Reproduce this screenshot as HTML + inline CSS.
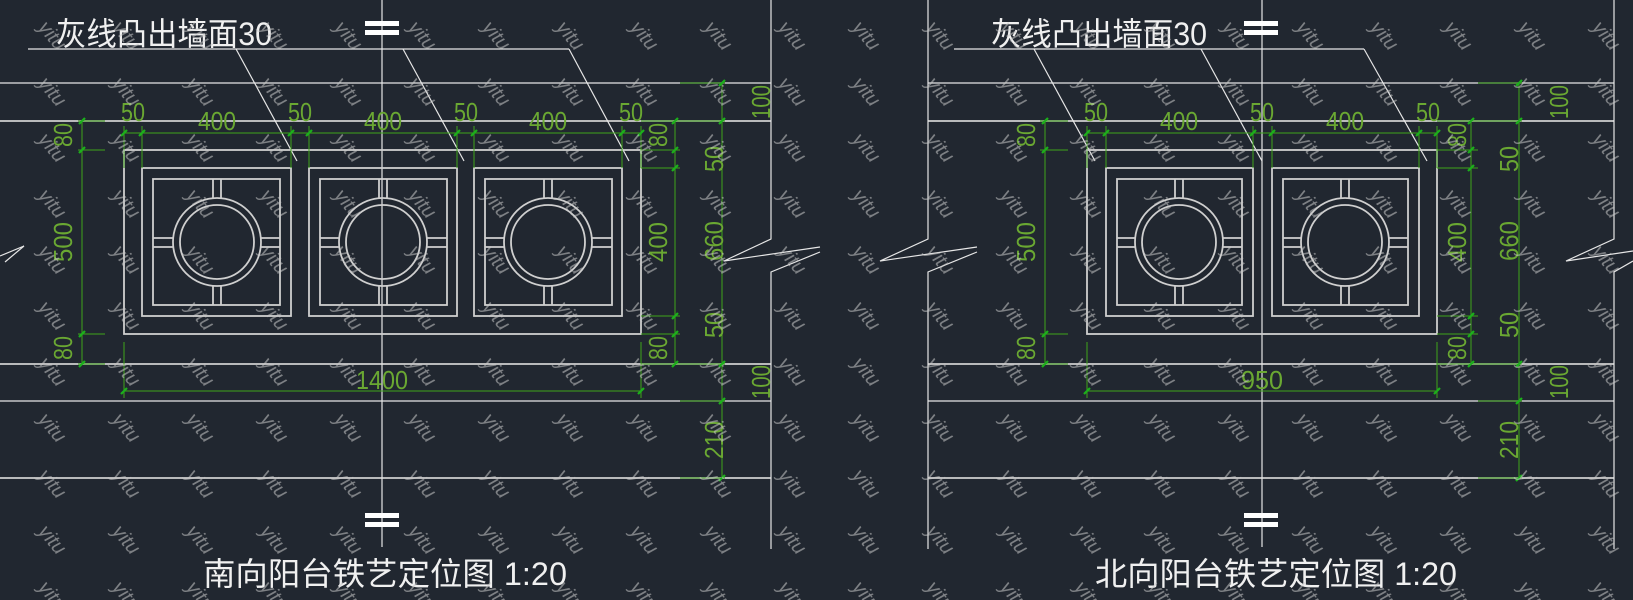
<!DOCTYPE html>
<html><head><meta charset="utf-8"><style>
html,body{margin:0;padding:0;background:#212730;}
svg{display:block}
.w{stroke:#e6e6e6;stroke-width:1.2;fill:none}
.g{stroke:#cfcfcf;stroke-width:1.8;fill:none}
.d{stroke:#3fa51a;stroke-width:1;fill:none}
.t{stroke:#1bb01b;stroke-width:2.2}
.dt{fill:#6aa832;font-family:"Liberation Sans",sans-serif;font-size:26px}
.cn{fill:#f0f0f0;font-family:"Liberation Sans","Noto Sans CJK SC",sans-serif;font-size:32px}
.wm{fill:rgba(200,200,200,0.55);font-family:"Liberation Sans",sans-serif;font-style:italic;font-size:20px}
</style></head><body>
<svg width="1633" height="600" viewBox="0 0 1633 600" xmlns="http://www.w3.org/2000/svg">
<defs>
<pattern id="wmp" x="15" y="8" width="74" height="56" patternUnits="userSpaceOnUse">
<text class="wm" x="37" y="34" text-anchor="middle" transform="rotate(50 37 28)">yitu</text>
</pattern>
</defs>
<rect width="1633" height="600" fill="#212730"/>

<!-- ===== LEFT ===== -->
<g>
<line class="w" x1="0" y1="83" x2="771" y2="83"/>
<line class="g" x1="0" y1="121" x2="771" y2="121"/>
<line class="g" x1="0" y1="364" x2="771" y2="364"/>
<line class="w" x1="0" y1="401" x2="771" y2="401"/>
<line class="g" x1="0" y1="478" x2="771" y2="478"/>
<polyline class="w" points="771,0 771,239 724,261 820,247"/>
<polyline class="w" points="820,252 771,272 771,549"/>
<polyline class="w" points="0,256 24,246 5,262"/>
<line class="w" x1="382" y1="0" x2="382" y2="547"/>
<rect x="365" y="21" width="34" height="5" fill="#fff"/><rect x="365" y="30" width="34" height="5" fill="#fff"/>
<rect x="365" y="513" width="34" height="5" fill="#fff"/><rect x="365" y="522" width="34" height="5" fill="#fff"/>
<text class="cn" x="56" y="45" textLength="216" lengthAdjust="spacingAndGlyphs">灰线凸出墙面30</text>
<polyline class="w" points="28,49 569,49"/>
<line class="w" x1="236" y1="49" x2="297" y2="161"/>
<line class="w" x1="403" y1="49" x2="464" y2="161"/>
<line class="w" x1="569" y1="49" x2="629" y2="161"/>
<rect class="g" x="124" y="150" width="517" height="184"/>
<g class="g">
<rect x="142" y="168" width="149" height="148"/><rect x="153" y="179" width="127" height="126"/>
<rect x="309" y="168" width="148" height="148"/><rect x="320" y="179" width="127" height="126"/>
<rect x="474" y="168" width="148" height="148"/><rect x="485" y="179" width="127" height="126"/>
<circle cx="217" cy="242" r="44"/><circle cx="217" cy="242" r="37"/>
<circle cx="383" cy="242" r="44"/><circle cx="383" cy="242" r="37"/>
<circle cx="548" cy="242" r="44"/><circle cx="548" cy="242" r="37"/>
<path d="M213,179V198M221,179V198M213,286V305M221,286V305M153,238H173M153,247H173M261,238H280M261,247H280"/>
<path d="M379,179V198M387,179V198M379,286V305M387,286V305M320,238H339M320,247H339M427,238H447M427,247H447"/>
<path d="M544,179V198M552,179V198M544,286V305M552,286V305M485,238H504M485,247H504M592,238H612M592,247H612"/>
</g>
<g class="d">
<line x1="124" y1="133" x2="641" y2="133"/>
<path d="M124,126V168M142,126V168M291,126V168M309,126V168M457,126V168M474,126V168M622,126V168M641,126V168"/>
<line x1="82" y1="121" x2="82" y2="364"/>
<path d="M78,150H105M78,334H105M78,121H105M78,364H105"/>
<line x1="675" y1="121" x2="675" y2="364"/>
<path d="M641,121H680M641,150H680M641,168H680M641,316H680M641,334H680M641,364H680"/>
<line x1="722" y1="83" x2="722" y2="478"/>
<path d="M680,83H725M680,121H725M680,364H725M680,401H725M680,478H725"/>
<line x1="124" y1="391" x2="641" y2="391"/>
<path d="M124,342V398M641,342V398"/>
</g>
<g class="t">
<path d="M121,136l6,-6M139,136l6,-6M288,136l6,-6M306,136l6,-6M454,136l6,-6M471,136l6,-6M619,136l6,-6M638,136l6,-6"/>
<path d="M79,124l6,-6M79,153l6,-6M79,337l6,-6M79,367l6,-6"/>
<path d="M672,124l6,-6M672,153l6,-6M672,171l6,-6M672,319l6,-6M672,337l6,-6M672,367l6,-6"/>
<path d="M719,86l6,-6M719,124l6,-6M719,367l6,-6M719,404l6,-6M719,481l6,-6"/>
<path d="M121,394l6,-6M638,394l6,-6"/>
</g>
<g class="dt" text-anchor="middle">
<text x="133" y="121" textLength="24" lengthAdjust="spacingAndGlyphs">50</text>
<text x="217" y="130" textLength="38" lengthAdjust="spacingAndGlyphs">400</text>
<text x="300" y="121" textLength="24" lengthAdjust="spacingAndGlyphs">50</text>
<text x="383" y="130" textLength="38" lengthAdjust="spacingAndGlyphs">400</text>
<text x="466" y="121" textLength="24" lengthAdjust="spacingAndGlyphs">50</text>
<text x="548" y="130" textLength="38" lengthAdjust="spacingAndGlyphs">400</text>
<text x="631" y="121" textLength="24" lengthAdjust="spacingAndGlyphs">50</text>
<text x="382" y="389" textLength="52" lengthAdjust="spacingAndGlyphs">1400</text>
<text transform="translate(72,135) rotate(-90)" textLength="24" lengthAdjust="spacingAndGlyphs">80</text>
<text transform="translate(72,242) rotate(-90)" textLength="40" lengthAdjust="spacingAndGlyphs">500</text>
<text transform="translate(72,348) rotate(-90)" textLength="24" lengthAdjust="spacingAndGlyphs">80</text>
<text transform="translate(667,135) rotate(-90)" textLength="24" lengthAdjust="spacingAndGlyphs">80</text>
<text transform="translate(667,242) rotate(-90)" textLength="40" lengthAdjust="spacingAndGlyphs">400</text>
<text transform="translate(667,348) rotate(-90)" textLength="24" lengthAdjust="spacingAndGlyphs">80</text>
<text transform="translate(770,102) rotate(-90)" textLength="34" lengthAdjust="spacingAndGlyphs">100</text>
<text transform="translate(723,159) rotate(-90)" textLength="26" lengthAdjust="spacingAndGlyphs">50</text>
<text transform="translate(723,241) rotate(-90)" textLength="40" lengthAdjust="spacingAndGlyphs">660</text>
<text transform="translate(723,325) rotate(-90)" textLength="26" lengthAdjust="spacingAndGlyphs">50</text>
<text transform="translate(770,382) rotate(-90)" textLength="34" lengthAdjust="spacingAndGlyphs">100</text>
<text transform="translate(723,440) rotate(-90)" textLength="38" lengthAdjust="spacingAndGlyphs">210</text>
</g>
<text class="cn" x="203" y="585" textLength="364" lengthAdjust="spacingAndGlyphs">南向阳台铁艺定位图 1:20</text>
</g>

<!-- ===== RIGHT ===== -->
<g>
<line class="w" x1="928" y1="83" x2="1614" y2="83"/>
<line class="g" x1="928" y1="121" x2="1614" y2="121"/>
<line class="g" x1="928" y1="364" x2="1614" y2="364"/>
<line class="w" x1="928" y1="401" x2="1614" y2="401"/>
<line class="g" x1="928" y1="478" x2="1614" y2="478"/>
<polyline class="w" points="928,0 928,239 880,261 977,247"/>
<polyline class="w" points="977,252 928,272 928,549"/>
<polyline class="w" points="1614,0 1614,239 1566,261 1633,251"/>
<polyline class="w" points="1633,261 1614,272 1614,549"/>
<line class="w" x1="1262" y1="0" x2="1262" y2="547"/>
<rect x="1244" y="21" width="34" height="5" fill="#fff"/><rect x="1244" y="30" width="34" height="5" fill="#fff"/>
<rect x="1244" y="513" width="34" height="5" fill="#fff"/><rect x="1244" y="522" width="34" height="5" fill="#fff"/>
<text class="cn" x="991" y="45" textLength="216" lengthAdjust="spacingAndGlyphs">灰线凸出墙面30</text>
<line class="w" x1="954" y1="49" x2="1364" y2="49"/>
<line class="w" x1="1034" y1="49" x2="1095" y2="161"/>
<line class="w" x1="1201" y1="49" x2="1262" y2="161"/>
<line class="w" x1="1364" y1="49" x2="1427" y2="161"/>
<rect class="g" x="1087" y="150" width="350" height="184"/>
<g class="g">
<rect x="1106" y="168" width="147" height="148"/><rect x="1117" y="179" width="125" height="126"/>
<rect x="1272" y="168" width="147" height="148"/><rect x="1283" y="179" width="125" height="126"/>
<circle cx="1179" cy="242" r="44"/><circle cx="1179" cy="242" r="37"/>
<circle cx="1345" cy="242" r="44"/><circle cx="1345" cy="242" r="37"/>
<path d="M1175,179V198M1183,179V198M1175,286V305M1183,286V305M1117,238H1135M1117,247H1135M1223,238H1242M1223,247H1242"/>
<path d="M1341,179V198M1349,179V198M1341,286V305M1349,286V305M1283,238H1301M1283,247H1301M1389,238H1408M1389,247H1408"/>
</g>
<g class="d">
<line x1="1087" y1="133" x2="1437" y2="133"/>
<path d="M1087,126V168M1106,126V168M1253,126V168M1272,126V168M1419,126V168M1437,126V168"/>
<line x1="1045" y1="121" x2="1045" y2="364"/>
<path d="M1040,150H1068M1040,334H1068M1040,121H1068M1040,364H1068"/>
<line x1="1471" y1="121" x2="1471" y2="364"/>
<path d="M1437,121H1478M1437,150H1478M1437,168H1478M1437,316H1478M1437,334H1478M1437,364H1478"/>
<line x1="1519" y1="83" x2="1519" y2="478"/>
<path d="M1478,83H1522M1478,121H1522M1478,364H1522M1478,401H1522M1478,478H1522"/>
<line x1="1087" y1="391" x2="1437" y2="391"/>
<path d="M1087,342V398M1437,342V398"/>
</g>
<g class="t">
<path d="M1084,136l6,-6M1103,136l6,-6M1250,136l6,-6M1269,136l6,-6M1416,136l6,-6M1434,136l6,-6"/>
<path d="M1042,124l6,-6M1042,153l6,-6M1042,337l6,-6M1042,367l6,-6"/>
<path d="M1468,124l6,-6M1468,153l6,-6M1468,171l6,-6M1468,319l6,-6M1468,337l6,-6M1468,367l6,-6"/>
<path d="M1516,86l6,-6M1516,124l6,-6M1516,367l6,-6M1516,404l6,-6M1516,481l6,-6"/>
<path d="M1084,394l6,-6M1434,394l6,-6"/>
</g>
<g class="dt" text-anchor="middle">
<text x="1096" y="121" textLength="24" lengthAdjust="spacingAndGlyphs">50</text>
<text x="1179" y="130" textLength="38" lengthAdjust="spacingAndGlyphs">400</text>
<text x="1262" y="121" textLength="24" lengthAdjust="spacingAndGlyphs">50</text>
<text x="1345" y="130" textLength="38" lengthAdjust="spacingAndGlyphs">400</text>
<text x="1428" y="121" textLength="24" lengthAdjust="spacingAndGlyphs">50</text>
<text x="1262" y="389" textLength="42" lengthAdjust="spacingAndGlyphs">950</text>
<text transform="translate(1035,135) rotate(-90)" textLength="24" lengthAdjust="spacingAndGlyphs">80</text>
<text transform="translate(1035,242) rotate(-90)" textLength="40" lengthAdjust="spacingAndGlyphs">500</text>
<text transform="translate(1035,348) rotate(-90)" textLength="24" lengthAdjust="spacingAndGlyphs">80</text>
<text transform="translate(1466,135) rotate(-90)" textLength="24" lengthAdjust="spacingAndGlyphs">80</text>
<text transform="translate(1466,242) rotate(-90)" textLength="40" lengthAdjust="spacingAndGlyphs">400</text>
<text transform="translate(1466,348) rotate(-90)" textLength="24" lengthAdjust="spacingAndGlyphs">80</text>
<text transform="translate(1568,102) rotate(-90)" textLength="34" lengthAdjust="spacingAndGlyphs">100</text>
<text transform="translate(1518,159) rotate(-90)" textLength="26" lengthAdjust="spacingAndGlyphs">50</text>
<text transform="translate(1518,241) rotate(-90)" textLength="40" lengthAdjust="spacingAndGlyphs">660</text>
<text transform="translate(1518,325) rotate(-90)" textLength="26" lengthAdjust="spacingAndGlyphs">50</text>
<text transform="translate(1568,382) rotate(-90)" textLength="34" lengthAdjust="spacingAndGlyphs">100</text>
<text transform="translate(1518,440) rotate(-90)" textLength="38" lengthAdjust="spacingAndGlyphs">210</text>
</g>
<text class="cn" x="1095" y="585" textLength="362" lengthAdjust="spacingAndGlyphs">北向阳台铁艺定位图 1:20</text>
</g>

<rect width="1633" height="600" fill="url(#wmp)"/>
</svg>
</body></html>
